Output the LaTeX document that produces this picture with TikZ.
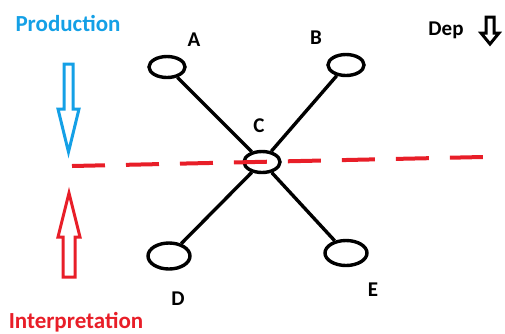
\documentclass[tikz,border=0pt]{standalone}
\usepackage{fontspec}
\setmainfont{Carlito}
\usetikzlibrary{shapes.geometric}
\definecolor{prodblue}{RGB}{20,160,230}
\definecolor{intred}{RGB}{232,30,40}
\begin{document}
\begin{tikzpicture}[x=1pt,y=-1pt,
  vert/.style={ellipse,draw=black,line width=3.4pt,inner sep=0pt,minimum width=36pt,minimum height=21pt},
  edge/.style={draw=black,line width=3.4pt},
  lab/.style={font=\fontsize{21}{24}\selectfont\bfseries,inner sep=0pt},
  hollow/.style={line width=3pt,line join=miter}]
\useasboundingbox (0,0) rectangle (505,333);
% vertices
\node[vert] (A) at (167,67) {};
\node[vert] (B) at (346,65) {};
\node[vert] (C) at (262,162) {};
\node[vert,minimum width=42pt,minimum height=26pt] (D) at (169,256) {};
\node[vert,minimum width=42pt,minimum height=25pt] (E) at (346,253) {};
% edges
\draw[edge] (A) -- (C);
\draw[edge] (B) -- (C);
\draw[edge] (D) -- (C);
\draw[edge] (E) -- (C);
% labels
\node[lab] (la) at (194,40) {A};
\node[lab] (lb) at (316,38) {B};
\node[lab] (lc) at (259,126) {C};
\node[lab] (ld) at (178,299) {D};
\node[lab] (le) at (373,290) {E};
\node[lab] (dep) at (446,30) {Dep};
\node[lab,text=prodblue,font=\fontsize{23}{26}\selectfont\bfseries] (prod) at (68,23) {Production};
\node[lab,text=intred,font=\fontsize{23}{26}\selectfont\bfseries] (interp) at (76,322) {Interpretation};
% dashed line
\coordinate (dl) at (72,166);
\coordinate (dr) at (483,157);
\draw[intred,line width=4pt,dash pattern=on 33pt off 21pt] (dl) -- (dr);
% blue down arrow
\draw[prodblue,hollow] (64,64) -- (73,64) -- (73,109) -- (79,109) -- (68.5,152) -- (58,109) -- (64,109) -- cycle;
% red up arrow
\draw[intred,hollow] (63,277) -- (75,277) -- (75,237) -- (80,237) -- (69,193) -- (58,237) -- (63,237) -- cycle;
% Dep arrow
\draw[black,hollow] (486,17) -- (494,17) -- (494,33) -- (499,33) -- (490,44) -- (481,33) -- (486,33) -- cycle;
\end{tikzpicture}
\end{document}
